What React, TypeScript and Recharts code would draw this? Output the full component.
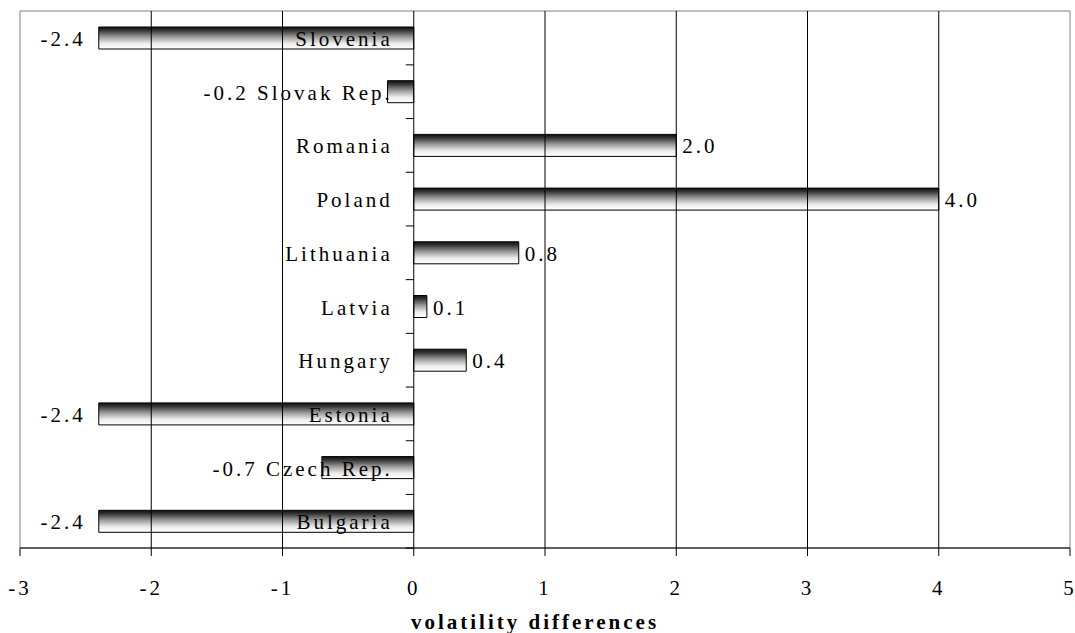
import React from "react"
import { BarChart, Bar, XAxis, YAxis, ReferenceLine, ReferenceArea, LabelList, Label } from "recharts"

// volatility differences by country, top row first
const categories = ["Slovenia", "Slovak Rep.", "Romania", "Poland", "Lithuania", "Latvia", "Hungary", "Estonia", "Czech Rep.", "Bulgaria"]
const differences = [-2.4, -0.2, 2.0, 4.0, 0.8, 0.1, 0.4, -2.4, -0.7, -2.4]
const xTicks = [-3, -2, -1, 0, 1, 2, 3, 4, 5]
const gridValues = [-2, -1, 1, 2, 3, 4]

const data = categories.map((name, i) => ({ name, value: differences[i] }))

const WIDTH = 1075
const HEIGHT = 633
const MARGIN = { top: 11, right: 5, bottom: 0, left: 20 }
const XAXIS_HEIGHT = 85
const BAND = (HEIGHT - MARGIN.top - MARGIN.bottom - XAXIS_HEIGHT) / data.length

const FONT = "'Liberation Serif', 'Times New Roman', serif"
const textStyle = { fontFamily: FONT, fontSize: 21, letterSpacing: "3px", fill: "#000" }

// category name next to the zero line, plus the value at the bar end
const renderBarLabels = (props: any) => {
  const { x, y, width, height, index } = props
  const row = data[index]
  if (!row) return null
  const left = Math.min(x, x + width)
  const right = Math.max(x, x + width)
  const zero = row.value < 0 ? right : left
  const end = row.value < 0 ? left : right
  const mid = y + height / 2
  const baseline = mid + 8
  const nameRight = zero - 21
  const nameStart = nameRight - row.name.length * 12.3
  const valueText = row.value.toFixed(1)

  let nameNode
  let valueNode = null
  if (row.value >= 0) {
    nameNode = (
      <text x={nameRight} y={baseline} textAnchor="end" style={textStyle}>{row.name}</text>
    )
    valueNode = (
      <text x={end + 6} y={baseline} textAnchor="start" style={textStyle}>{valueText}</text>
    )
  } else if (end < nameStart) {
    nameNode = (
      <text x={nameRight} y={baseline} textAnchor="end" style={textStyle}>{row.name}</text>
    )
    valueNode = (
      <text x={end - 13} y={baseline} textAnchor="end" style={textStyle}>{valueText}</text>
    )
  } else {
    // short negative bar: value sits just before the name
    nameNode = (
      <text x={nameRight} y={baseline} textAnchor="end" style={textStyle}>{`${valueText} ${row.name}`}</text>
    )
  }

  const tickY = mid + BAND / 2
  return (
    <g>
      <line x1={zero - 8} y1={tickY} x2={zero} y2={tickY} stroke="#000" strokeWidth={1} />
      {nameNode}
      {valueNode}
    </g>
  )
}

const renderXTick = (props: any) => {
  const { x, y, payload } = props
  return (
    <text x={x} y={y + 39} textAnchor="middle" style={textStyle}>{payload.value}</text>
  )
}

const renderTitle = (props: any) => {
  const vb = props.viewBox || { x: 0, y: 0, width: 0 }
  return (
    <text
      x={vb.x + vb.width / 2 - 10}
      y={vb.y + 81}
      textAnchor="middle"
      style={{ ...textStyle, fontWeight: "bold" }}
    >
      volatility differences
    </text>
  )
}

export default function App() {
  return (
    <div style={{ position: "absolute", left: 0, top: 0, width: WIDTH, height: HEIGHT, background: "#fff" }}>
      <BarChart width={WIDTH} height={HEIGHT} data={data} layout="vertical" margin={MARGIN}>
        <defs>
          <linearGradient id="barShade" x1="0" y1="0" x2="0" y2="1">
            <stop offset="0%" stopColor="#111" />
            <stop offset="15%" stopColor="#333" />
            <stop offset="45%" stopColor="#9a9a9a" />
            <stop offset="75%" stopColor="#ececec" />
            <stop offset="100%" stopColor="#fff" />
          </linearGradient>
        </defs>
        <ReferenceArea x1={-3} x2={5} fill="none" stroke="#808080" strokeWidth={1} ifOverflow="visible" />
        {gridValues.map((v) => (
          <ReferenceLine key={v} x={v} stroke="#000" strokeWidth={1} />
        ))}
        <XAxis
          type="number"
          domain={[-3, 5]}
          ticks={xTicks}
          interval={0}
          height={XAXIS_HEIGHT}
          axisLine={{ stroke: "#000" }}
          tickLine={{ stroke: "#000" }}
          tickSize={8}
          tickMargin={0}
          tick={renderXTick}
          label={<Label content={renderTitle} />}
        />
        <YAxis type="category" dataKey="name" hide />
        <ReferenceLine x={0} stroke="#000" strokeWidth={1} />
        <Bar dataKey="value" fill="url(#barShade)" stroke="#000" strokeWidth={1} barSize={22} isAnimationActive={false}>
          <LabelList dataKey="value" content={renderBarLabels} />
        </Bar>
      </BarChart>
    </div>
  )
}
